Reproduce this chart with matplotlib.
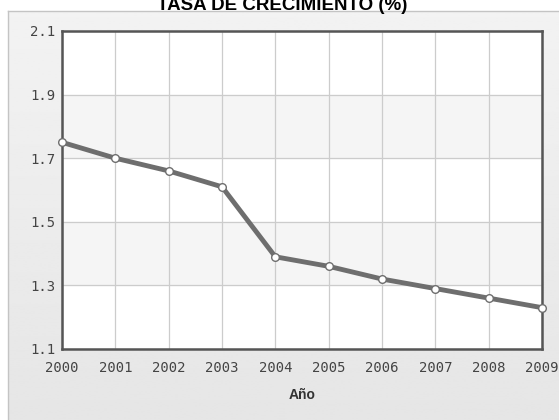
import numpy as np
import matplotlib.pyplot as plt

years = [2000, 2001, 2002, 2003, 2004, 2005, 2006, 2007, 2008, 2009]
tasa = [1.75, 1.70, 1.66, 1.61, 1.39, 1.36, 1.32, 1.29, 1.26, 1.23]
y_ticks = [1.1, 1.3, 1.5, 1.7, 1.9, 2.1]

fig = plt.figure(figsize=(5.59, 4.20), dpi=100)
fig.patch.set_facecolor('white')

# grey gradient panel behind the chart
bg = fig.add_axes([8 / 559, 0, 1 - 8 / 559, 1 - 11 / 420])
grad = np.linspace(0.95, 0.90, 256).reshape(-1, 1)
bg.imshow(grad, aspect='auto', cmap='gray', vmin=0, vmax=1, extent=[0, 1, 0, 1])
bg.set_xlim(0, 1)
bg.set_ylim(0, 1)
bg.set_xticks([])
bg.set_yticks([])
for side in ['right', 'bottom']:
    bg.spines[side].set_visible(False)
for side in ['left', 'top']:
    bg.spines[side].set_color('#c4c4c4')
    bg.spines[side].set_linewidth(1)

ax = fig.add_axes([62 / 559, 1 - 349 / 420, 480 / 559, 318 / 420])
ax.set_facecolor('white')

# alternating bands
for i in range(len(y_ticks) - 1):
    if i % 2 == 1:
        ax.axhspan(y_ticks[i], y_ticks[i + 1], color='#f5f5f5', zorder=0)

ax.plot(years, tasa, color='#6e6e6e', linewidth=3.5, marker='o',
        markersize=5.5, markerfacecolor='white', markeredgecolor='#6e6e6e',
        markeredgewidth=1.0, zorder=3, clip_on=False)

ax.set_xlim(2000, 2009)
ax.set_ylim(1.1, 2.1)
ax.set_xticks(years)
ax.set_yticks(y_ticks)
ax.set_yticklabels(['%.1f' % v for v in y_ticks])
ax.grid(True, color='#cccccc', linewidth=0.9, zorder=1)
ax.set_axisbelow(True)
ax.tick_params(length=0, labelsize=10, labelcolor='#444444')
ax.tick_params(axis='x', pad=9)
ax.tick_params(axis='y', pad=5)
for lab in ax.get_xticklabels() + ax.get_yticklabels():
    lab.set_family('DejaVu Sans Mono')
for s in ax.spines.values():
    s.set_color('#555555')
    s.set_linewidth(1.8)

fig.text(302 / 559, 1 - 395 / 420, 'Año', ha='center', va='center',
         fontsize=10, fontweight='bold', color='#333333', family='Liberation Sans')
fig.text(282 / 559, 1 - 9.5 / 420, 'TASA DE CRECIMIENTO (%)', ha='center',
         va='baseline', fontsize=13.5, fontweight='bold', color='black',
         family='Liberation Sans')

fig.savefig('out.png', dpi=100)
